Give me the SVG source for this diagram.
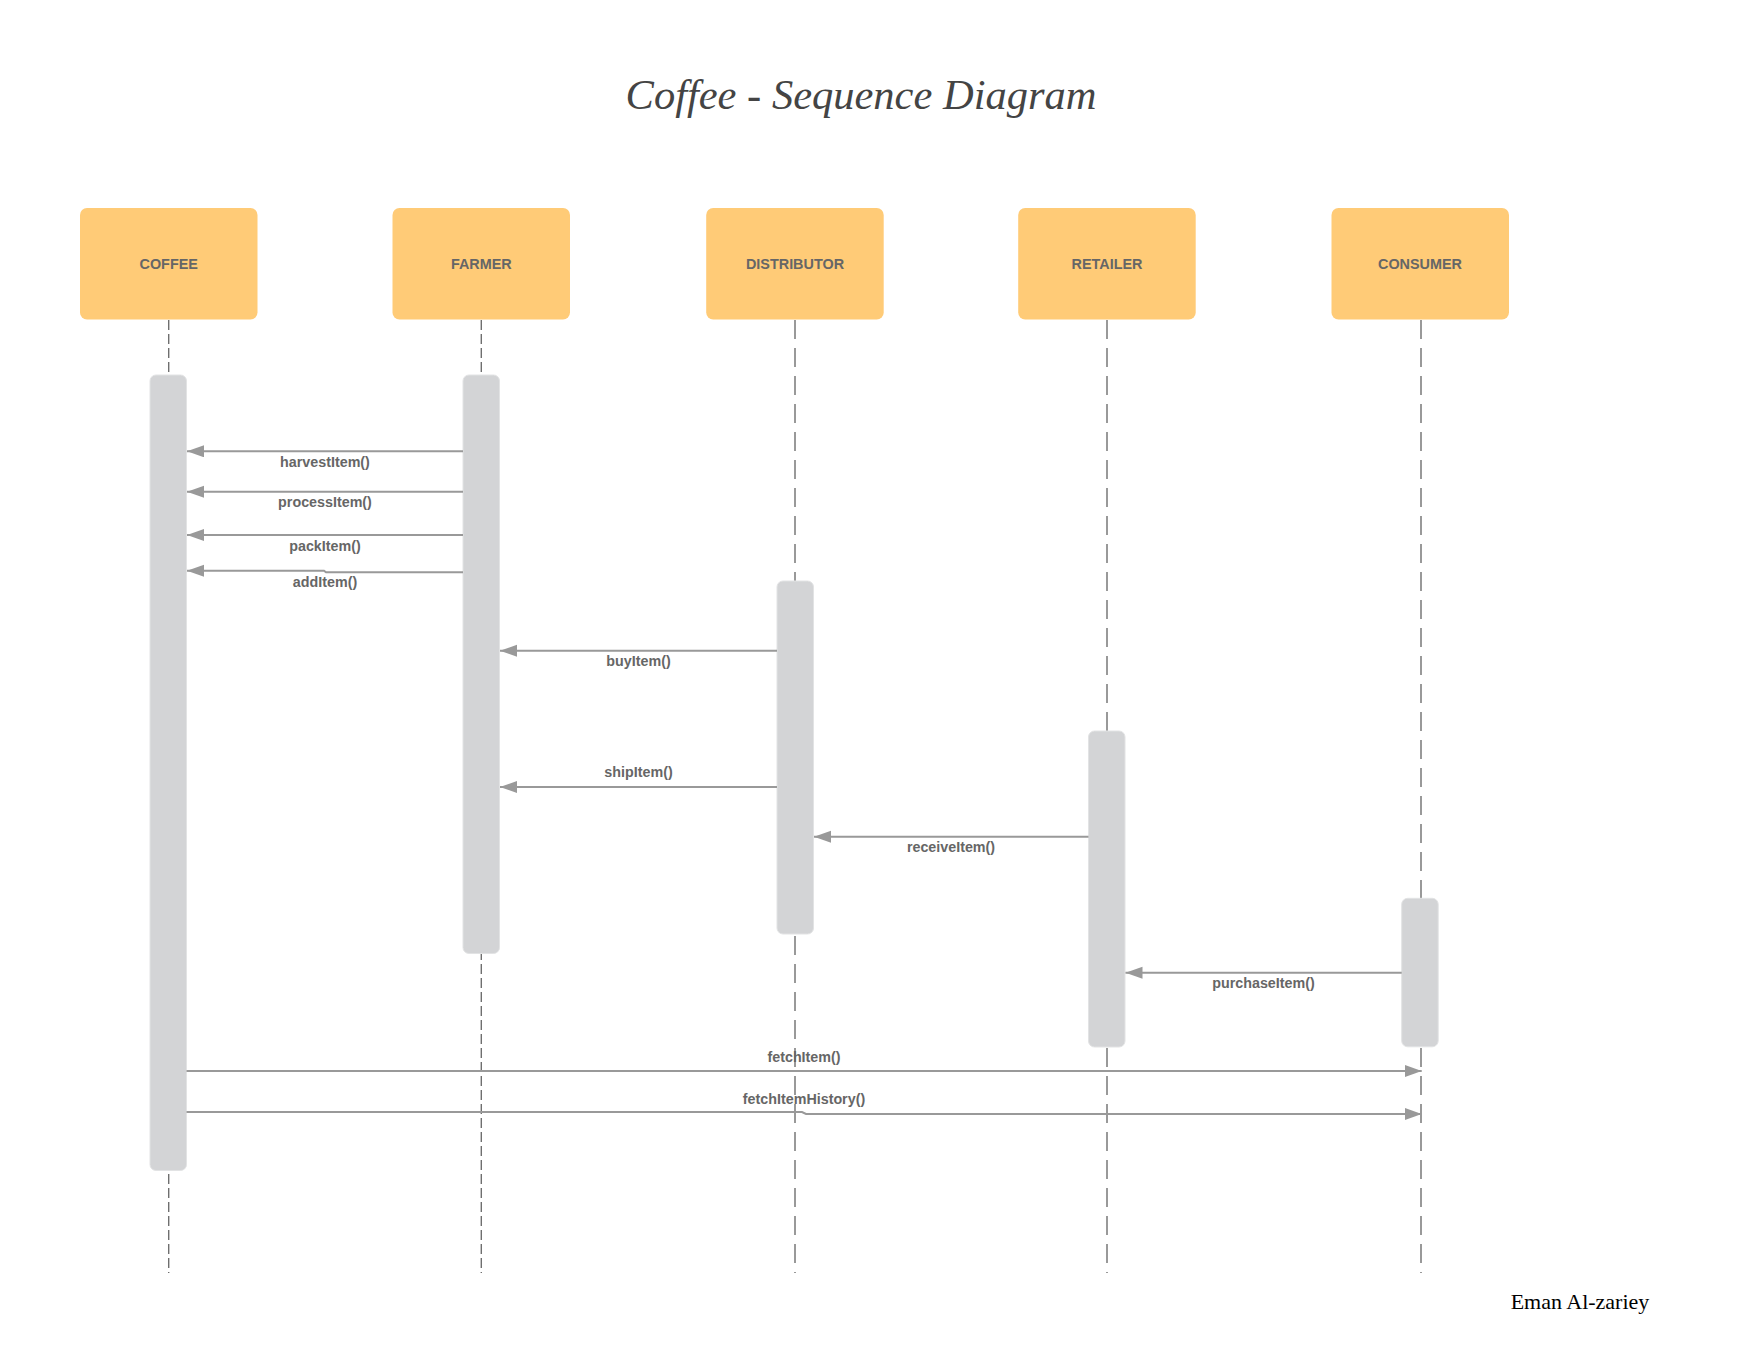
<svg xmlns="http://www.w3.org/2000/svg" width="1763" height="1360" viewBox="0 0 1763 1360">
<defs>
<style>
.box{fill:#FFCB77;}
.bar{fill:#D3D4D6;stroke:#E2E3E4;stroke-width:1;}
.nlabel{font-family:"Liberation Sans",Arial,sans-serif;font-weight:bold;font-size:14.4px;fill:#666666;text-anchor:middle;}
.mlabel{font-family:"Liberation Sans",Arial,sans-serif;font-weight:bold;font-size:14.3px;fill:#666666;text-anchor:middle;}
.life1{stroke:#6f6f6f;stroke-width:1.4;stroke-dasharray:10 4;fill:none;}
.life2{stroke:#999999;stroke-width:2;stroke-dasharray:19 9;fill:none;}
.msg{stroke:#999999;stroke-width:2;fill:none;marker-end:url(#arr);}
</style>
<marker id="arr" markerUnits="userSpaceOnUse" markerWidth="19" markerHeight="13" refX="17" refY="6" orient="auto">
<path d="M0,0 L17,6 L0,12 Z" fill="#999999"/>
</marker>
</defs>
<rect width="1763" height="1360" fill="#ffffff"/>
<text x="861" y="109" font-family="'Liberation Serif','Times New Roman',serif" font-style="italic" font-size="42.5" fill="#444444" text-anchor="middle">Coffee - Sequence Diagram</text>

<g id="lifelines">
<line class="life1" x1="168.7" y1="320" x2="168.7" y2="1273"/>
<line class="life1" x1="481.3" y1="320" x2="481.3" y2="1273"/>
<line class="life2" x1="795" y1="320" x2="795" y2="1273"/>
<line class="life2" x1="1107" y1="320" x2="1107" y2="1273"/>
<line class="life2" x1="1421" y1="320" x2="1421" y2="1273"/>
</g>

<g id="node-coffee">
<rect class="box" x="80" y="208" width="177.5" height="111.5" rx="7"/>
<text class="nlabel" x="168.7" y="269">COFFEE</text>
<rect class="bar" x="150" y="375" width="36.5" height="795.5" rx="6"/>
</g>
<g id="node-farmer">
<rect class="box" x="392.5" y="208" width="177.5" height="111.5" rx="7"/>
<text class="nlabel" x="481.3" y="269">FARMER</text>
<rect class="bar" x="463" y="375" width="36.5" height="578.5" rx="6"/>
</g>
<g id="node-distributor">
<rect class="box" x="706.2" y="208" width="177.5" height="111.5" rx="7"/>
<text class="nlabel" x="795" y="269">DISTRIBUTOR</text>
<rect class="bar" x="777" y="581" width="36.5" height="353" rx="6"/>
</g>
<g id="node-retailer">
<rect class="box" x="1018.2" y="208" width="177.5" height="111.5" rx="7"/>
<text class="nlabel" x="1107" y="269">RETAILER</text>
<rect class="bar" x="1088.5" y="731" width="36.5" height="316" rx="6"/>
</g>
<g id="node-consumer">
<rect class="box" x="1331.5" y="208" width="177.5" height="111.5" rx="7"/>
<text class="nlabel" x="1420" y="269">CONSUMER</text>
<rect class="bar" x="1401.7" y="898.3" width="36.5" height="148.5" rx="6"/>
</g>

<g id="connectors">
<path class="msg" d="M463,451.3 H187" stroke-width="1.6"/>
<text class="mlabel" x="325" y="467">harvestItem()</text>
<path class="msg" d="M463,491.7 H187"/>
<text class="mlabel" x="325" y="507">processItem()</text>
<path class="msg" d="M463,535 H187"/>
<text class="mlabel" x="325" y="551">packItem()</text>
<path class="msg" d="M463,572.3 H326 L324,570.7 H187"/>
<text class="mlabel" x="325" y="587">addItem()</text>
<path class="msg" d="M777,650.7 H500"/>
<text class="mlabel" x="638.5" y="666">buyItem()</text>
<path class="msg" d="M777,787 H500"/>
<text class="mlabel" x="638.5" y="777">shipItem()</text>
<path class="msg" d="M1088.5,836.7 H814"/>
<text class="mlabel" x="951" y="852">receiveItem()</text>
<path class="msg" d="M1401.7,972.7 H1125.5"/>
<text class="mlabel" x="1263.5" y="988">purchaseItem()</text>
<path class="msg" d="M186.5,1071 H1421.7"/>
<text class="mlabel" x="804" y="1062">fetchItem()</text>
<path class="msg" d="M186.5,1112 H802 L806,1114 H1421.7"/>
<text class="mlabel" x="804" y="1104">fetchItemHistory()</text>
</g>

<text x="1580" y="1309" font-family="'Liberation Serif','Times New Roman',serif" font-size="22" fill="#000000" text-anchor="middle">Eman Al-zariey</text>
</svg>
